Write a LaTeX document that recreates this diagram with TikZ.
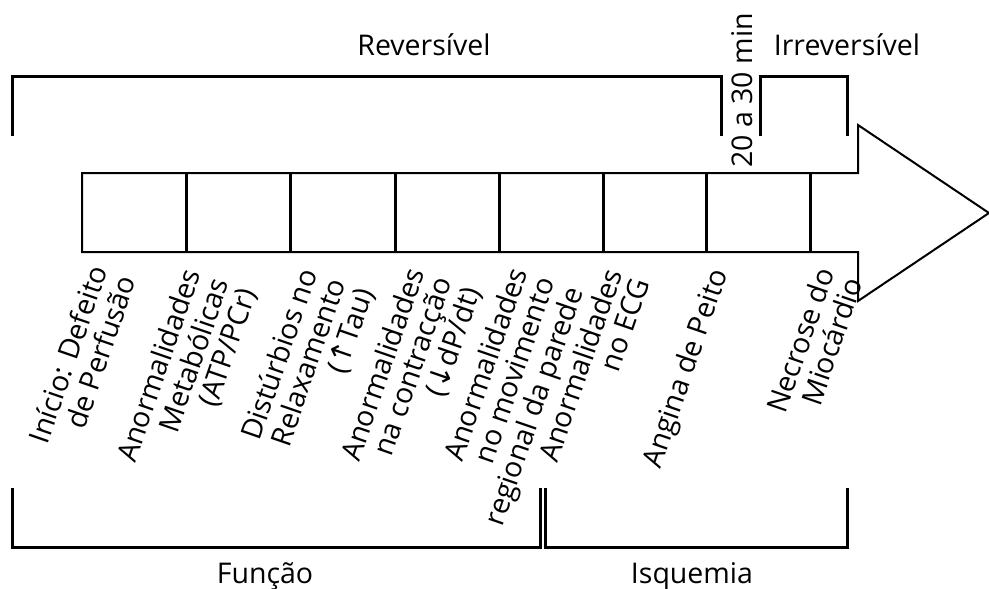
\documentclass[tikz,border=0pt]{standalone}
\usepackage{fontspec}
\setmainfont{Open Sans}
\newfontfamily\arrowfont{DejaVu Sans}
\newcommand{\evtext}[1]{\begin{tabular}[t]{@{}r@{}}#1\end{tabular}}
\begin{document}
\begin{tikzpicture}[x=1pt,y=-1pt,
  bracket/.style={line width=3pt, line join=miter},
  outline/.style={line width=2pt, line join=miter},
  divider/.style={line width=3pt},
  title/.style={font=\fontsize{28.5}{28}\selectfont, inner sep=0pt, anchor=base},
  event/.style={font=\fontsize{28.5}{27.5}\selectfont, inner sep=0pt, anchor=base east, rotate=71}]
\useasboundingbox (0,0) rectangle (989,589);

% timeline arrow
\draw[outline] (82,173) -- (858,173) -- (858,125) -- (989,213) -- (858,301)
  -- (858,252) -- (82,252) -- cycle;
\foreach \x in {186,290,395,499,603,706,810}
  \draw[divider] (\x,173) -- (\x,252);

% brackets above the arrow
\coordinate (revA) at (12,136);  \coordinate (revB) at (721,136);
\coordinate (irrA) at (760,136); \coordinate (irrB) at (847,136);
\draw[bracket] (revA) -- (12,76) -- (721,76) -- (revB);
\draw[bracket] (irrA) -- (760,76) -- (847,76) -- (irrB);
\node[title] (rev) at (424,55) {Reversível};
\node[title] (irr) at (847,55) {Irreversível};
\node[title, rotate=90, anchor=base] (tmin) at (752,90.5) {20 a 30 min};

% brackets below the arrow
\coordinate (funA) at (12,488);  \coordinate (funB) at (540,488);
\coordinate (isqA) at (545,488); \coordinate (isqB) at (847,488);
\draw[bracket] (funA) -- (12,547) -- (540,547) -- (funB);
\draw[bracket] (isqA) -- (545,547) -- (847,547) -- (isqB);
\node[title] (fun) at (265,583) {Função};
\node[title] (isq) at (692,583) {Isquemia};

% events along the timeline
\node[event] (e1) at (108,270) {\evtext{Início: Defeito\\de Perfusão}};
\node[event] (e2) at (201,273) {\evtext{Anormalidades\\Metabólicas\\(ATP/PCr)}};
\node[event] (e3) at (318,273) {\evtext{Distúrbios no\\Relaxamento\\({\arrowfont ↑}Tau)}};
\node[event] (e4) at (425,272) {\evtext{Anormalidades\\na contracção\\({\arrowfont ↓}dP/dt)}};
\node[event] (e5) at (528,272) {\evtext{Anormalidades\\no movimento\\regional da parede}};
\node[event] (e6) at (623,273) {\evtext{Anormalidades\\no ECG}};
\node[event] (e7) at (728,273) {\evtext{Angina de Peito}};
\node[event] (e8) at (835,272) {\evtext{Necrose do\\Miocárdio}};
\end{tikzpicture}
\end{document}
